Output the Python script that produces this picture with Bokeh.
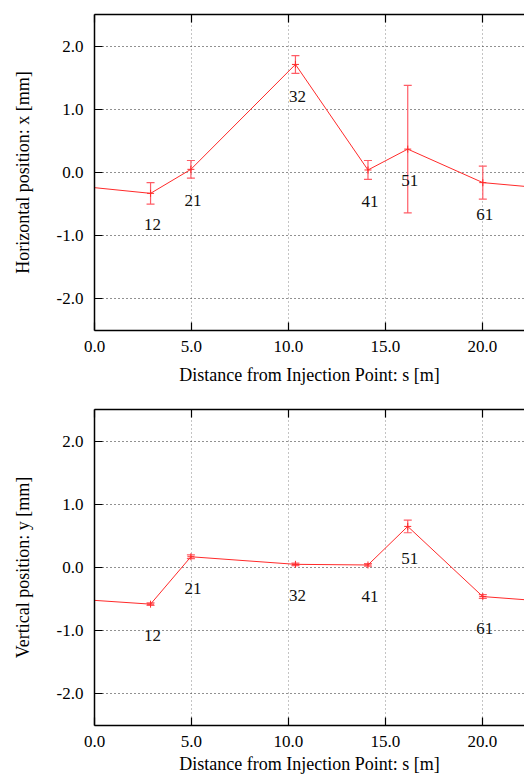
from bokeh.plotting import figure
from bokeh.models import (LinearAxis, FixedTicker, PrintfTickFormatter, Whisker,
                          ColumnDataSource, TeeHead, Range1d)
from bokeh.layouts import column
from bokeh.core.properties import value
from bokeh.embed import file_html
from bokeh.resources import INLINE

# ---- data ----
monitors = ["12", "21", "32", "41", "51", "61"]
s_pos = [2.89, 4.97, 10.36, 14.10, 16.15, 20.02]
x_pos = [-0.33, 0.05, 1.71, 0.04, 0.37, -0.16]
x_err = [0.17, 0.14, 0.14, 0.15, 1.01, 0.26]
y_pos = [-0.58, 0.17, 0.05, 0.04, 0.65, -0.46]
y_err = [0.02, 0.03, 0.02, 0.02, 0.10, 0.03]
# orbit continuation at the edges of the view
s_edge = [0.0, 22.2]
x_edge = [-0.24, -0.22]
y_edge = [-0.52, -0.51]
x_ticks = [0, 5, 10, 15, 20]
y_ticks = [-2, -1, 0, 1, 2]

FONT = "Liberation Serif"
LINE_RED = "#ff2a2a"
ERR_RED = "#ff5c66"


def style_axis(ax, ticks):
    ax.ticker = FixedTicker(ticks=ticks)
    ax.formatter = PrintfTickFormatter(format="%.1f")
    ax.major_tick_in = 8
    ax.major_tick_out = 0
    ax.minor_tick_line_color = None
    ax.axis_line_color = "black"
    ax.axis_line_width = 1.5
    ax.major_tick_line_color = "black"
    ax.major_tick_line_width = 1.2
    ax.major_label_text_font = FONT
    ax.major_label_text_font_size = "17px"
    ax.major_label_text_color = "black"
    ax.axis_label_text_font = FONT
    ax.axis_label_text_font_size = "18px"
    ax.axis_label_text_font_style = "normal"
    ax.axis_label_text_color = "black"


def make_panel(vals, errs, edge_vals, ylabel, top, bottom, height, title_gap):
    p = figure(width=524, height=height, x_range=Range1d(0, 22.17),
               y_range=Range1d(-2.5, 2.5), output_backend="svg",
               toolbar_location=None, min_border_left=94, min_border_right=0,
               min_border_top=top, min_border_bottom=bottom,
               background_fill_color="white", border_fill_color="white")
    p.outline_line_color = None
    style_axis(p.xaxis[0], x_ticks)
    style_axis(p.yaxis[0], y_ticks)
    p.xaxis[0].axis_label = "Distance from Injection Point: s [m]"
    p.xaxis[0].major_label_standoff = 10
    p.xaxis[0].axis_label_standoff = title_gap
    p.yaxis[0].axis_label = ylabel
    p.yaxis[0].major_label_standoff = 11
    p.yaxis[0].axis_label_standoff = 21

    # top frame edge with mirrored inward ticks, no labels drawn
    top_ax = LinearAxis()
    style_axis(top_ax, x_ticks)
    top_ax.major_label_text_color = None
    top_ax.major_label_text_font_size = "1px"
    top_ax.major_label_standoff = 0
    p.add_layout(top_ax, "above")

    p.xgrid[0].grid_line_color = "#888888"
    p.ygrid[0].grid_line_color = "#222222"
    for g in (p.xgrid[0], p.ygrid[0]):
        g.grid_line_dash = "1 3"
        g.grid_line_width = 1
    p.xgrid[0].ticker = FixedTicker(ticks=x_ticks)
    p.ygrid[0].ticker = FixedTicker(ticks=y_ticks)

    line_s = [s_edge[0]] + s_pos + [s_edge[1]]
    line_v = [edge_vals[0]] + vals + [edge_vals[1]]
    p.line(line_s, line_v, line_color=LINE_RED, line_width=1)

    src = ColumnDataSource(dict(
        s=s_pos, v=vals,
        up=[v + e for v, e in zip(vals, errs)],
        lo=[v - e for v, e in zip(vals, errs)],
        ly=[v - 0.5 for v in vals],
        name=monitors))
    w = Whisker(base="s", upper="up", lower="lo", source=src, dimension="height",
                line_color=ERR_RED, line_width=1.2,
                upper_head=TeeHead(size=8, line_color=ERR_RED, line_width=1.2),
                lower_head=TeeHead(size=8, line_color=ERR_RED, line_width=1.2))
    p.add_layout(w)
    p.scatter("s", "v", source=src, marker="cross", size=7,
              line_color=LINE_RED, line_width=1)
    p.text("s", "ly", text="name", source=src, x_offset=2,
           text_align="center", text_baseline="middle",
           text_font=value(FONT), text_font_size="17px", text_color="#111111")
    return p


p1 = make_panel(x_pos, x_err, x_edge, "Horizontal position: x [mm]", 14, 60, 390, 10)
p2 = make_panel(y_pos, y_err, y_edge, "Vertical position: y [mm]", 19, 55, 390, 4)

layout = column(p1, p2, spacing=0)
open("out.html", "w").write(file_html(layout, INLINE))
